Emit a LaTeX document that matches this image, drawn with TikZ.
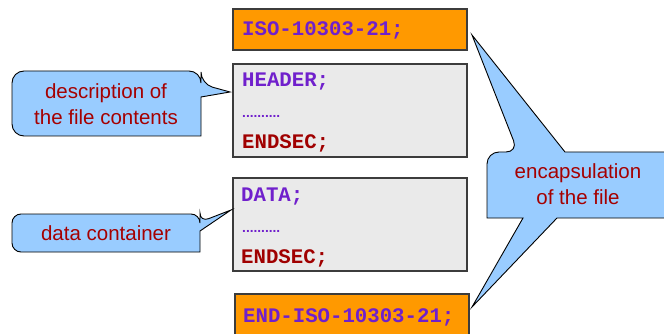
\documentclass[tikz,border=0pt]{standalone}
\usepackage{fontspec}
\setmainfont{Liberation Sans}
\newfontfamily\codefont{Liberation Mono}
\definecolor{codepurple}{RGB}{112,32,204}
\definecolor{codered}{RGB}{160,0,0}
\definecolor{calltext}{RGB}{165,0,0}
\definecolor{orangefill}{RGB}{255,153,0}
\definecolor{grayfill}{RGB}{234,234,234}
\definecolor{boxline}{RGB}{60,60,60}
\definecolor{callfill}{RGB}{153,204,255}
\tikzset{
  orangebox/.style={draw=boxline, line width=1.1pt, fill=orangefill},
  graybox/.style={draw=boxline, line width=1.1pt, fill=grayfill},
  codetext/.style={anchor=base west, inner sep=0pt, font=\codefont\bfseries\fontsize{20.7}{24}\selectfont},
  dotstext/.style={anchor=base west, inner sep=0pt, text=codepurple, font=\bfseries\fontsize{13.7}{16}\selectfont},
  callout/.style={draw=black, line width=0.9pt, fill=callfill},
  calltxt/.style={inner sep=0pt, text=calltext, align=center, font=\fontsize{20.5}{26}\selectfont},
}
\begin{document}
\begin{tikzpicture}[x=1pt, y=-1pt]
\useasboundingbox (0,0) rectangle (664,334);
\clip (0,0) rectangle (664,334);
% boxes
\draw[orangebox] (233,9) rectangle (467,50);
\node[codetext, text=codepurple] (isoT) at (242,36) {ISO-10303-21;};
\draw[graybox] (233,64) rectangle (467,157);
\node[codetext, text=codepurple] (hdrT) at (242,87) {HEADER;};
\node[dotstext] (hdrD) at (242,118) {..........};
\node[codetext, text=codered] (hdrE) at (242,149) {ENDSEC;};
\draw[graybox] (233,178) rectangle (467,271);
\node[codetext, text=codepurple] (datT) at (241,201) {DATA;};
\node[dotstext] (datD) at (242,232) {..........};
\node[codetext, text=codered] (datE) at (241,263) {ENDSEC;};
\draw[orangebox] (235,294) rectangle (469,345);
\node[codetext, text=codepurple] (endT) at (243,322) {END-ISO-10303-21;};
% callouts
\coordinate (tip1) at (230,92);
\coordinate (tip2) at (231,210);
\coordinate (tip3) at (472,35);
\coordinate (tip4) at (472,307);
\draw[callout] (12,103) [rounded corners=12] -- (12,71) -- (201,71) -- (201,84)
  [sharp corners] -- (tip1) -- (201,97) -- (201,136) [rounded corners=12] -- (12,136) -- cycle;
\node[calltxt] (c1) at (106,104.6) {description of\\the file contents};
\draw[callout] (12,233) [rounded corners=9] -- (12,214) -- (200,214) -- (200,222)
  [sharp corners] -- (tip2) -- (200,231) -- (200,252) [rounded corners=9] -- (12,252) -- cycle;
\node[calltxt, anchor=base] (c2) at (106,240) {data container};
\draw[callout] (487,185) [rounded corners=12] -- (487,152) -- (518,152)
  [sharp corners] -- (tip3) -- (565,152) -- (680,152) -- (680,218) -- (557,218) -- (tip4)
  -- (523,218) -- (487,218) [rounded corners=12] -- cycle;
\node[calltxt] (c3) at (578,184.2) {encapsulation\\of the file};
\end{tikzpicture}
\end{document}
